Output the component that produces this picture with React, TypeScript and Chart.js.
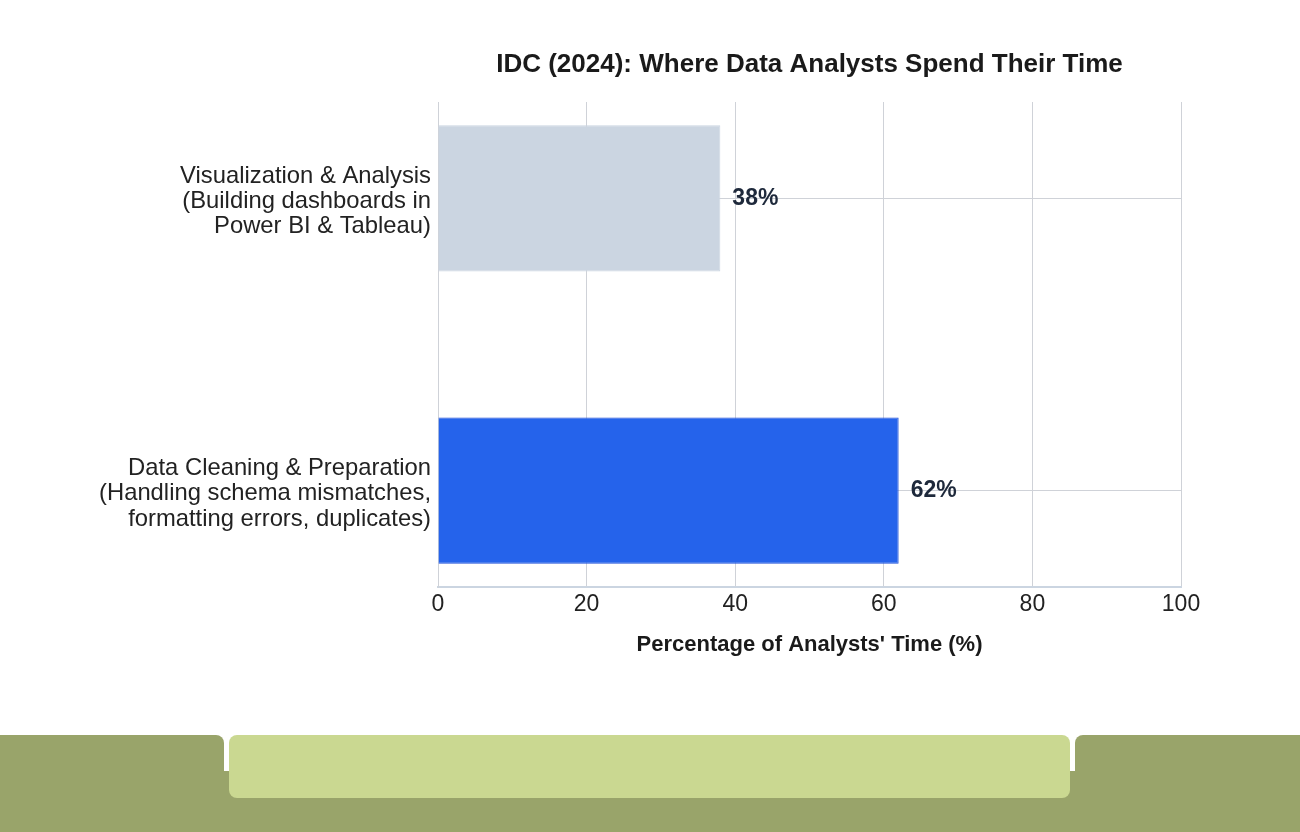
import { useEffect, useRef } from "react";
import { Chart, registerables } from "chart.js";
import type { Plugin } from "chart.js";

Chart.register(...registerables);

// top-to-bottom order, as shown
const categories = [
  ["Visualization & Analysis", "(Building dashboards in", "Power BI & Tableau)"],
  ["Data Cleaning & Preparation", "(Handling schema mismatches,", "formatting errors, duplicates)"],
];
const shares = [38, 62];
const barColors = ["#CBD5E1", "#2563EB"];
const barBorders = ["#CBD5E1", "#1D4ED8"];
const chartTitle = "IDC (2024): Where Data Analysts Spend Their Time";
const xTitle = "Percentage of Analysts' Time (%)";

const FONT = "'Liberation Sans', Arial, Helvetica, sans-serif";
const GRID = "#cfd2d8";

const titlePlugin: Plugin<"bar"> = {
  id: "areaTitle",
  afterDraw(chart) {
    const { ctx, chartArea } = chart;
    ctx.save();
    ctx.font = `bold 26px ${FONT}`;
    ctx.fillStyle = "#1a1a1a";
    ctx.textAlign = "center";
    ctx.textBaseline = "middle";
    ctx.fillText(chartTitle, (chartArea.left + chartArea.right) / 2, chartArea.top - 37);
    ctx.restore();
  },
};

const valueLabels: Plugin<"bar"> = {
  id: "valueLabels",
  afterDatasetsDraw(chart) {
    const { ctx } = chart;
    const meta = chart.getDatasetMeta(0);
    ctx.save();
    ctx.font = `bold 23px ${FONT}`;
    ctx.fillStyle = "#1e293b";
    ctx.textAlign = "left";
    ctx.textBaseline = "middle";
    meta.data.forEach((bar, i) => {
      ctx.fillText(`${shares[i]}%`, bar.x + 12, bar.y);
    });
    ctx.restore();
  },
};

function TimeChart() {
  const canvasRef = useRef<HTMLCanvasElement | null>(null);

  useEffect(() => {
    const canvas = canvasRef.current;
    if (!canvas) return;

    const chart = new Chart(canvas, {
      type: "bar",
      data: {
        datasets: [
          {
            data: shares.map((v, i) => ({ x: v, y: i })),
            backgroundColor: barColors,
            borderColor: barBorders,
            borderWidth: 1,
            barPercentage: 0.5,
            categoryPercentage: 1,
          },
        ],
      },
      options: {
        indexAxis: "y",
        animation: false,
        responsive: true,
        maintainAspectRatio: false,
        layout: { padding: { top: 102, right: 119, left: 0, bottom: 42 } },
        plugins: {
          legend: { display: false },
          title: { display: false },
          tooltip: { enabled: false },
        },
        scales: {
          x: {
            type: "linear",
            min: 0,
            max: 100,
            ticks: {
              stepSize: 20,
              padding: 4,
              color: "#222",
              font: { family: FONT, size: 23 },
            },
            grid: { color: GRID, drawTicks: false },
            border: { display: true, color: "#cbd5e1", width: 2 },
            title: {
              display: true,
              text: xTitle,
              color: "#1a1a1a",
              padding: { top: 15, bottom: 0 },
              font: { family: FONT, size: 22, weight: "bold" },
            },
            afterFit: (scale) => {
              scale.height = 71;
            },
          },
          y: {
            type: "linear",
            reverse: true,
            offset: false,
            min: -0.33,
            max: 1.33,
            afterBuildTicks: (scale) => {
              scale.ticks = categories.map((_, i) => ({ value: i }));
            },
            afterFit: (scale) => {
              scale.width = 438;
            },
            ticks: {
              callback: (value) => categories[Number(value)],
              padding: 7,
              labelOffset: 3,
              color: "#222",
              font: { family: FONT, size: 23.8, lineHeight: 1.07 },
            },
            grid: { color: GRID, drawTicks: false, offset: false },
            border: { display: true, color: GRID },
          },
        },
      },
      plugins: [titlePlugin, valueLabels],
    });

    return () => {
      chart.destroy();
    };
  }, []);

  return (
    <div style={{ position: "fixed", left: 0, top: 0, width: 1300, height: 700 }}>
      <canvas ref={canvasRef}></canvas>
    </div>
  );
}

function Footer() {
  const olive = "#99A46A";
  return (
    <div style={{ position: "fixed", left: 0, top: 735, width: 1300, height: 97, background: "#fff" }}>
      <div style={{ position: "absolute", left: 0, right: 0, top: 36, bottom: 0, background: olive }} />
      <div style={{ position: "absolute", left: 0, width: 224, top: 0, bottom: 0, background: olive, borderTopRightRadius: 8 }} />
      <div style={{ position: "absolute", left: 1075, right: 0, top: 0, bottom: 0, background: olive, borderTopLeftRadius: 8 }} />
      <div style={{ position: "absolute", left: 229, width: 841, top: 0, height: 63, background: "#CAD891", borderRadius: 8 }} />
    </div>
  );
}

export default function App() {
  return (
    <div>
      <TimeChart />
      <Footer />
    </div>
  );
}
